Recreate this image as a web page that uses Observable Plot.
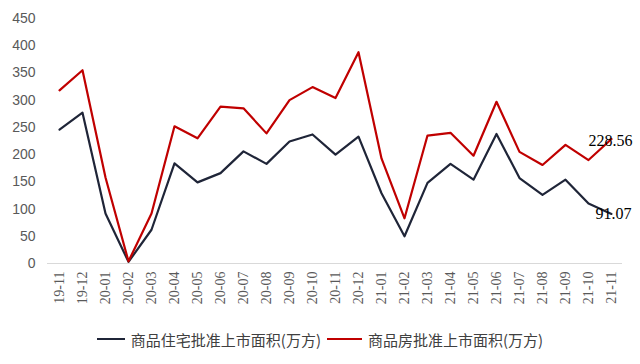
<!DOCTYPE html>
<html>
<head>
<meta charset="utf-8">
<script src="https://cdn.jsdelivr.net/npm/d3@7"></script>
<script src="https://cdn.jsdelivr.net/npm/@observablehq/plot@0.6"></script>
<style>
  body { margin: 0; background: #fff; }
  #chart { width: 640px; }
  .legend { width: 640px; height: 26px; display: flex; justify-content: center; align-items: center;
    font-family: "Noto Sans CJK SC", sans-serif; font-size: 15px; color: #404040; }
  .legend .item { display: flex; align-items: center; }
  .legend .sw { display: inline-block; height: 2.5px; margin-right: 6px; }
</style>
</head>
<body>
<div id="chart"></div>
<script>
const months = ["19-11","19-12","20-01","20-02","20-03","20-04","20-05","20-06","20-07","20-08","20-09","20-10",
  "20-11","20-12","21-01","21-02","21-03","21-04","21-05","21-06","21-07","21-08","21-09","21-10","21-11"];
const residential = [246, 277, 92, 3, 62, 184, 149, 166, 206, 183, 224, 237, 200, 233, 129, 50, 148, 183, 154, 238, 157, 126, 154, 110, 91.07];
const allHousing = [318, 355, 158, 4, 92, 252, 230, 288, 285, 239, 300, 324, 304, 388, 193, 83, 235, 240, 198, 297, 205, 181, 218, 190, 228.56];
const yTicks = [0, 50, 100, 150, 200, 250, 300, 350, 400, 450];
const seriesNames = ["商品住宅批准上市面积(万方)", "商品房批准上市面积(万方)"];
const seriesColors = ["#1f2538", "#c00000"];

const resData = months.map((m, i) => ({month: m, value: residential[i]}));
const allData = months.map((m, i) => ({month: m, value: allHousing[i]}));

const chart = Plot.plot({
  width: 640,
  height: 326,
  marginTop: 18,
  marginBottom: 63,
  marginLeft: 47,
  marginRight: 18,
  style: {background: "#fff", fontFamily: "Liberation Sans, sans-serif"},
  x: {type: "point", domain: months, padding: 0.5, label: null},
  y: {domain: [0, 450], label: null},
  marks: [
    Plot.axisY({ticks: yTicks, tickSize: 0, tickPadding: 12, fontSize: 14, fill: "#595959", label: null}),
    Plot.axisX({tickSize: 0, tickPadding: 8, tickRotate: -90, fontSize: 14, fill: "#595959", label: null}),
    Plot.ruleY([0], {stroke: "#d9d9d9", strokeWidth: 1.2}),
    Plot.line(resData, {x: "month", y: "value", stroke: seriesColors[0], strokeWidth: 2.2}),
    Plot.line(allData, {x: "month", y: "value", stroke: seriesColors[1], strokeWidth: 2.2}),
    Plot.text(allData.slice(-1), {x: "month", y: "value", text: d => d.value.toFixed(2), dx: -1, dy: 2,
      fontSize: 16, fontFamily: "Liberation Serif", fill: "#000"}),
    Plot.text(resData.slice(-1), {x: "month", y: "value", text: d => d.value.toFixed(2), dx: 2, dy: 0,
      fontSize: 16, fontFamily: "Liberation Serif", fill: "#000"})
  ]
});
// x tick labels in a serif face, as in the reference
chart.querySelectorAll("text").forEach(t => {
  if (months.includes(t.textContent.trim())) t.style.fontFamily = '"Liberation Serif", serif';
});
document.getElementById("chart").appendChild(chart);

const legend = document.createElement("div");
legend.className = "legend";
seriesNames.forEach((name, i) => {
  const item = document.createElement("span");
  item.className = "item";
  const sw = document.createElement("span");
  sw.className = "sw";
  sw.style.background = seriesColors[i];
  sw.style.width = i === 0 ? "28px" : "35px";
  sw.style.marginLeft = i === 0 ? "0" : "6px";
  item.appendChild(sw);
  const t = document.createElement("span");
  t.textContent = name;
  item.appendChild(t);
  legend.appendChild(item);
});
document.getElementById("chart").appendChild(legend);
</script>
</body>
</html>
